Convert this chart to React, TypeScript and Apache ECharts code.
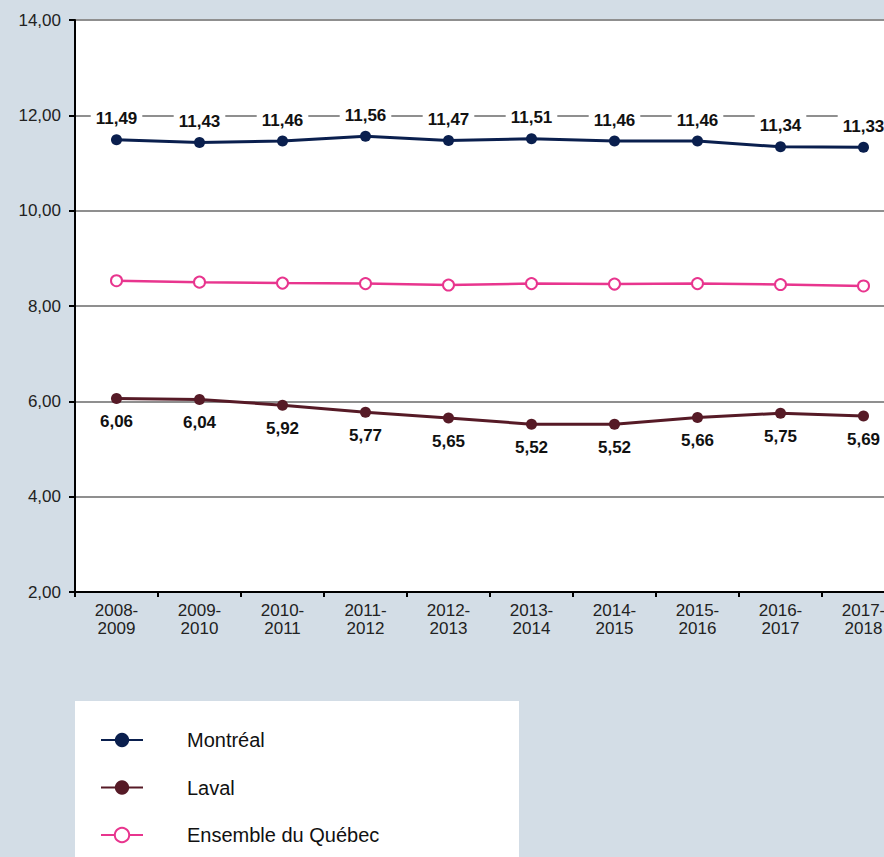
import React, { useEffect, useRef } from "react";
import * as echarts from "echarts";

const categories = [
  "2008-\n2009", "2009-\n2010", "2010-\n2011", "2011-\n2012", "2012-\n2013",
  "2013-\n2014", "2014-\n2015", "2015-\n2016", "2016-\n2017", "2017-\n2018",
];
const montreal = [11.49, 11.43, 11.46, 11.56, 11.47, 11.51, 11.46, 11.46, 11.34, 11.33];
const laval = [6.06, 6.04, 5.92, 5.77, 5.65, 5.52, 5.52, 5.66, 5.75, 5.69];
const quebec = [8.53, 8.50, 8.48, 8.47, 8.44, 8.47, 8.46, 8.47, 8.45, 8.42];
const seriesNames = ["Montréal", "Laval", "Ensemble du Québec"];

const fmt = (v: number) => v.toFixed(2).replace(".", ",");
const FONT = "Liberation Sans, Arial, sans-serif";

export default function App() {
  const ref = useRef<HTMLDivElement>(null);
  useEffect(() => {
    if (!ref.current) return;
    const chart = echarts.init(ref.current, undefined, { renderer: "svg" });
    chart.setOption({
      animation: false,
      backgroundColor: "#d3dde6",
      textStyle: { fontFamily: FONT },
      graphic: [
        {
          type: "rect",
          shape: { x: 75, y: 701, width: 444, height: 160 },
          style: { fill: "#ffffff" },
          z: -1,
        },
      ],
      grid: {
        left: 75,
        top: 20,
        width: 830,
        height: 572,
        show: true,
        backgroundColor: "#ffffff",
        borderWidth: 0,
      },
      legend: {
        orient: "vertical",
        left: 100,
        top: 730,
        padding: 0,
        itemWidth: 42,
        itemHeight: 18,
        itemGap: 27.5,
        data: seriesNames,
        textStyle: {
          fontFamily: FONT,
          fontSize: 20,
          lineHeight: 20,
          color: "#111",
          padding: [0, 0, 0, 39],
        },
      },
      xAxis: {
        type: "category",
        data: categories,
        boundaryGap: true,
        axisLine: { show: true, lineStyle: { color: "#000", width: 2 } },
        axisTick: { show: true, length: 5, lineStyle: { color: "#000", width: 2 } },
        axisLabel: {
          color: "#222",
          fontSize: 17,
          fontFamily: FONT,
          margin: 9,
          lineHeight: 18,
          interval: 0,
        },
        splitLine: { show: false },
      },
      yAxis: {
        type: "value",
        min: 2,
        max: 14,
        interval: 2,
        axisLine: { show: true, lineStyle: { color: "#000", width: 2 } },
        axisTick: { show: true, length: 6, lineStyle: { color: "#000", width: 2 } },
        axisLabel: {
          color: "#222",
          fontSize: 17,
          fontFamily: FONT,
          margin: 14,
          formatter: (v: number) => fmt(v),
        },
        splitLine: { show: true, lineStyle: { color: "#8f8f8f", width: 2 } },
      },
      series: [
        {
          name: seriesNames[0],
          type: "line",
          data: montreal,
          color: "#0a1f4e",
          symbol: "circle",
          symbolSize: 11,
          lineStyle: { width: 3, color: "#0a1f4e" },
          itemStyle: { color: "#0a1f4e" },
          label: {
            show: true,
            position: "top",
            distance: 3,
            formatter: (p: any) => fmt(p.value),
            fontSize: 17,
            fontWeight: "bold",
            fontFamily: FONT,
            color: "#111",
            backgroundColor: "#ffffff",
            padding: [4, 5],
          },
          z: 3,
        },
        {
          name: seriesNames[1],
          type: "line",
          data: laval,
          color: "#561a26",
          symbol: "circle",
          symbolSize: 11,
          lineStyle: { width: 3, color: "#561a26" },
          itemStyle: { color: "#561a26" },
          label: {
            show: true,
            position: "bottom",
            distance: 9,
            formatter: (p: any) => fmt(p.value),
            fontSize: 17,
            fontWeight: "bold",
            fontFamily: FONT,
            color: "#111",
          },
          z: 3,
        },
        {
          name: seriesNames[2],
          type: "line",
          data: quebec,
          color: "#e8358e",
          symbol: "emptyCircle",
          symbolSize: 11,
          lineStyle: { width: 2.5, color: "#e8358e" },
          itemStyle: { color: "#e8358e", borderWidth: 1.8 },
          z: 2,
        },
      ],
    });
    return () => chart.dispose();
  }, []);
  return (
    <div
      style={{
        position: "fixed",
        left: 0,
        top: 0,
        width: 884,
        height: 857,
        overflow: "hidden",
      }}
    >
      <div ref={ref} style={{ width: 920, height: 857 }} />
    </div>
  );
}
